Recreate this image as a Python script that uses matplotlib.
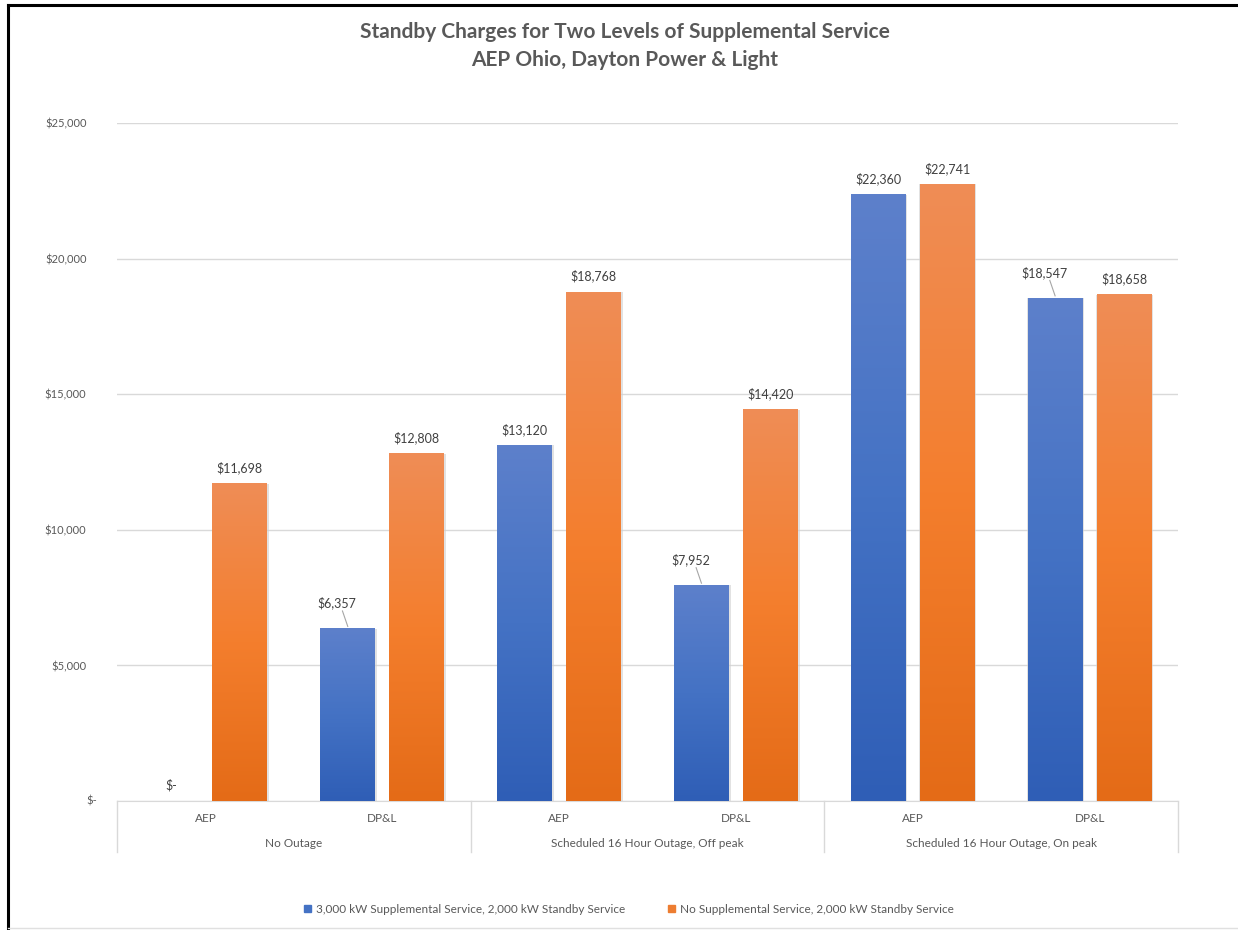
import numpy as np
import matplotlib.pyplot as plt
from matplotlib.colors import LinearSegmentedColormap
from matplotlib.lines import Line2D
from matplotlib.patches import Patch

# chart data
groups = ['No Outage', 'Scheduled 16 Hour Outage, Off peak', 'Scheduled 16 Hour Outage, On peak']
utilities = ['AEP', 'DP&L']
series_names = ['3,000 kW Supplemental Service, 2,000 kW Standby Service',
                'No Supplemental Service, 2,000 kW Standby Service']
supplemental = [0, 6357, 13120, 7952, 22360, 18547]
no_supplemental = [11698, 12808, 18768, 14420, 22741, 18658]
y_ticks = [0, 5000, 10000, 15000, 20000, 25000]

blue_grad = ['#2f5eb6', '#4472c4', '#5d80cb']
orange_grad = ['#e46b17', '#f47e2d', '#ef8d56']
text_gray = '#595959'

plt.rcParams['font.family'] = ['Lato', 'DejaVu Sans']

fig = plt.figure(figsize=(12.38, 9.3), dpi=100)
ax = fig.add_axes([117 / 1238, 1 - 801 / 930, (1178 - 117) / 1238, (801 - 123) / 930])

n = len(supplemental)
x = np.arange(n)
width = 0.31
offset = 0.195


def gradient_bars(xs, heights, colors):
    cmap = LinearSegmentedColormap.from_list('g', colors)
    grad = np.linspace(0, 1, 256).reshape(-1, 1)
    for xc, h in zip(xs, heights):
        if h <= 0:
            continue
        # faint shadow
        ax.bar(xc + 0.004, h, width + 0.012, color='#d0d0d0', alpha=0.6, zorder=2, linewidth=0)
        ax.imshow(grad, cmap=cmap, origin='lower', aspect='auto', zorder=3,
                  extent=[xc - width / 2, xc + width / 2, 0, h])


gradient_bars(x - offset, supplemental, blue_grad)
gradient_bars(x + offset, no_supplemental, orange_grad)

ax.set_xlim(-0.5, n - 0.5)
ax.set_ylim(0, 25000)
ax.set_yticks(y_ticks)
ax.set_yticklabels(['' if v == 0 else '${:,}'.format(v) for v in y_ticks])
ax.tick_params(axis='y', length=0, pad=22, labelsize=8, labelcolor=text_gray)
# accounting style zero sits a bit further right
ax.text(-20 / 1061, 0, '$-', transform=ax.get_yaxis_transform(), ha='right', va='center',
        fontsize=8, color=text_gray)
ax.set_xticks([])
ax.grid(axis='y', color='#d9d9d9', linewidth=1)
ax.set_axisbelow(True)
for s in ['top', 'right', 'left']:
    ax.spines[s].set_visible(False)
ax.spines['bottom'].set_color('#d9d9d9')

# data labels
leader = {1, 3, 5}
for vals, sign in [(supplemental, -1), (no_supplemental, 1)]:
    for i, v in enumerate(vals):
        xc = i + sign * offset
        lab = '$-' if v == 0 else '${:,}'.format(v)
        if sign == -1 and i in leader:
            ax.plot([xc - 0.03, xc], [v + 650, v + 80], color='#a6a6a6', lw=0.8, zorder=4)
            ax.text(xc - 0.06, v + 700, lab, ha='center', va='bottom', fontsize=9, color='#404040')
        else:
            ax.text(xc, v + 350, lab, ha='center', va='bottom', fontsize=9, color='#404040')

# multi level category axis
for i in range(n):
    ax.text(i, -650, utilities[i % 2], ha='center', va='center', fontsize=8.5, color=text_gray)
for g, name in enumerate(groups):
    ax.text(2 * g + 0.5, -1550, name, ha='center', va='center', fontsize=8.5, color=text_gray)
for b in [-0.5, 1.5, 3.5, 5.5]:
    ax.add_line(Line2D([b, b], [0, -1880], color='#d9d9d9', lw=1, clip_on=False))

# title
fig.text(0.5045, 1 - 32 / 930, 'Standby Charges for Two Levels of Supplemental Service',
         ha='center', va='center', fontsize=15, fontweight='bold', color=text_gray)
fig.text(0.5045, 1 - 60 / 930, 'AEP Ohio, Dayton Power & Light',
         ha='center', va='center', fontsize=15, fontweight='bold', color=text_gray)

# legend
handles = [Patch(color='#4472c4'), Patch(color='#ed7d31')]
fig.legend(handles, series_names, loc='center', bbox_to_anchor=(0.508, 1 - 909 / 930), ncol=2,
           frameon=False, fontsize=8.5, handlelength=0.6, handleheight=0.6, columnspacing=3.6,
           handletextpad=0.4, labelcolor=text_gray)

# outer frame
fig.add_artist(Line2D([8 / 1238, 8 / 1238], [0, 1 - 5 / 930], color='black', lw=2.2))
fig.add_artist(Line2D([8 / 1238, 1], [1 - 5 / 930, 1 - 5 / 930], color='black', lw=2.2))
fig.add_artist(Line2D([8 / 1238, 1], [2 / 930, 2 / 930], color='#e0e0e0', lw=1))

fig.savefig('out.png', dpi=100)
